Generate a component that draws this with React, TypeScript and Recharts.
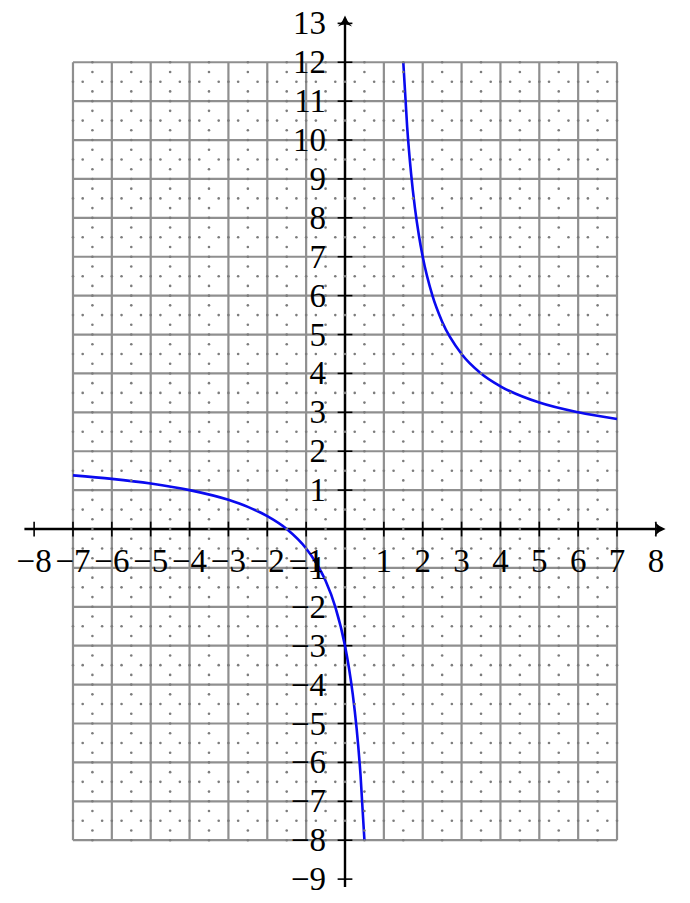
import { ComposedChart, Line, Scatter, XAxis, YAxis, ReferenceLine, ReferenceDot } from "recharts"

const W = 690
const H = 903

// curve values: left branch (x < 1) and right branch (x > 1)
const leftX = [-7, -6, -5, -4, -3, -2.5, -2, -1.5, -1, -0.75, -0.5, -0.25, 0, 0.1, 0.2, 0.3, 0.4, 0.5]
const leftY = [1.38, 1.29, 1.17, 1.0, 0.75, 0.57, 0.33, 0, -0.5, -0.86, -1.33, -2, -3, -3.56, -4.25, -5.14, -6.33, -8]
const rightX = [1.5, 1.6, 1.7, 1.8, 1.9, 2, 2.25, 2.5, 3, 3.5, 4, 5, 6, 7]
const rightY = [12, 10.33, 9.14, 8.25, 7.56, 7, 6, 5.33, 4.5, 4, 3.67, 3.25, 3, 2.83]

// grid and axis labels
const gridX = [-7, -6, -5, -4, -3, -2, -1, 0, 1, 2, 3, 4, 5, 6, 7]
const gridY = [-8, -7, -6, -5, -4, -3, -2, -1, 0, 1, 2, 3, 4, 5, 6, 7, 8, 9, 10, 11, 12]
const xTicks = [-8, -7, -6, -5, -4, -3, -2, -1, 1, 2, 3, 4, 5, 6, 7, 8]
const yTicks = [-9, -8, -7, -6, -5, -4, -3, -2, -1, 1, 2, 3, 4, 5, 6, 7, 8, 9, 10, 11, 12, 13]

const leftData = leftX.map((x, i) => ({ x, y: leftY[i] }))
const rightData = rightX.map((x, i) => ({ x, y: rightY[i] }))

// dotted pattern inside every grid cell (decoration, not data)
const cellDots: { x: number; y: number }[] = []
for (let i = 0; i < gridX.length; i++) {
  for (let j = 0; j < gridY.length; j++) {
    const x = gridX[i]
    const y = gridY[j]
    if (i < gridX.length - 1) cellDots.push({ x: x + 0.5, y })
    if (j < gridY.length - 1) cellDots.push({ x, y: y + 0.5 })
    if (i < gridX.length - 1 && j < gridY.length - 1) {
      cellDots.push({ x: x + 0.5, y: y + 0.25 })
      cellDots.push({ x: x + 0.25, y: y + 0.5 })
      cellDots.push({ x: x + 0.75, y: y + 0.5 })
      cellDots.push({ x: x + 0.5, y: y + 0.75 })
    }
  }
}

const fmt = (v: number) => (v < 0 ? "\u2212" + Math.abs(v) : String(v))

const GRID = "#8f8f8f"
const FONT = "'Liberation Serif', 'DejaVu Serif', serif"

export default function App() {
  return (
    <div style={{ position: "absolute", left: 0, top: 0, background: "#fff" }}>
      <ComposedChart width={W} height={H} margin={{ top: 0, right: 0, bottom: 0, left: 0 }}>
        <XAxis type="number" dataKey="x" domain={[-8.878, 8.878]} allowDataOverflow hide />
        <YAxis type="number" dataKey="y" domain={[-9.614, 13.6]} allowDataOverflow hide />

        {gridY.map((v) => (
          <ReferenceLine key={"h" + v} segment={[{ x: -7, y: v }, { x: 7, y: v }]} stroke={GRID} strokeWidth={2.2} ifOverflow="visible" />
        ))}
        {gridX.map((v) => (
          <ReferenceLine key={"v" + v} segment={[{ x: v, y: -8 }, { x: v, y: 12 }]} stroke={GRID} strokeWidth={2.2} ifOverflow="visible" />
        ))}

        <Scatter
          data={cellDots}
          dataKey="y"
          isAnimationActive={false}
          shape={(p: any) => <circle cx={p.cx} cy={p.cy} r={1.3} fill="#7c7c7c" />}
        />

        {/* axes */}
        <ReferenceLine segment={[{ x: -8.25, y: 0 }, { x: 8.15, y: 0 }]} stroke="#000" strokeWidth={2.4} ifOverflow="visible" />
        <ReferenceLine segment={[{ x: 0, y: -9.2 }, { x: 0, y: 13.1 }]} stroke="#000" strokeWidth={2.4} ifOverflow="visible" />
        {xTicks.map((v) => (
          <ReferenceLine key={"xt" + v} segment={[{ x: v, y: -0.19 }, { x: v, y: 0.19 }]} stroke="#000" strokeWidth={1.6} ifOverflow="visible" />
        ))}
        {yTicks.map((v) => (
          <ReferenceLine key={"yt" + v} segment={[{ x: -0.19, y: v }, { x: 0.19, y: v }]} stroke="#000" strokeWidth={1.6} ifOverflow="visible" />
        ))}
        <ReferenceDot
          x={8.25}
          y={0}
          r={0}
          ifOverflow="visible"
          shape={(p: any) => (
            <path
              d={`M${p.cx},${p.cy} Q${p.cx - 6},${p.cy - 2} ${p.cx - 11},${p.cy - 7} Q${p.cx - 7},${p.cy} ${p.cx - 11},${p.cy + 7} Q${p.cx - 6},${p.cy + 2} ${p.cx},${p.cy} Z`}
              fill="#000"
            />
          )}
        />
        <ReferenceDot
          x={0}
          y={13.2}
          r={0}
          ifOverflow="visible"
          shape={(p: any) => (
            <path
              d={`M${p.cx},${p.cy} Q${p.cx - 2},${p.cy + 6} ${p.cx - 7},${p.cy + 11} Q${p.cx},${p.cy + 7} ${p.cx + 7},${p.cy + 11} Q${p.cx + 2},${p.cy + 6} ${p.cx},${p.cy} Z`}
              fill="#000"
            />
          )}
        />

        {/* curve */}
        <Line data={leftData} dataKey="y" type="monotone" stroke="#0a0aef" strokeWidth={2.6} dot={false} isAnimationActive={false} />
        <Line data={rightData} dataKey="y" type="monotone" stroke="#0a0aef" strokeWidth={2.6} dot={false} isAnimationActive={false} />

        {/* tick labels */}
        <Scatter
          data={xTicks.map((v) => ({ x: v, y: 0 }))}
          dataKey="y"
          isAnimationActive={false}
          shape={(p: any) => (
            <text x={p.cx} y={p.cy + 43} textAnchor="middle" fontFamily={FONT} fontSize={33} fill="#000">
              {fmt(p.payload.x)}
            </text>
          )}
        />
        <Scatter
          data={yTicks.map((v) => ({ x: 0, y: v }))}
          dataKey="y"
          isAnimationActive={false}
          shape={(p: any) => (
            <text x={p.cx - 19} y={p.cy + 11} textAnchor="end" fontFamily={FONT} fontSize={33} fill="#000">
              {fmt(p.payload.y)}
            </text>
          )}
        />
      </ComposedChart>
    </div>
  )
}
